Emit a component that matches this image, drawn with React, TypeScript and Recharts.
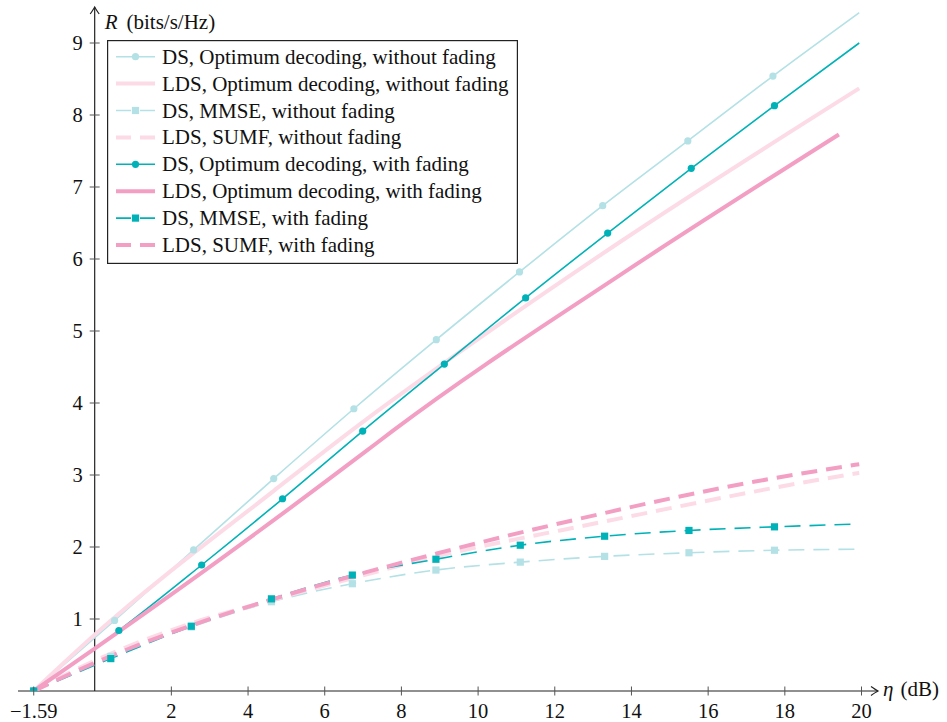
import React from 'react';
import { LineChart, Line, XAxis, YAxis, ReferenceLine, Legend } from 'recharts';

const FONT = "'Liberation Serif', 'Times New Roman', Times, serif";

// axis ticks
const X_TICKS = [-1.59, 2, 4, 6, 8, 10, 12, 14, 16, 18, 20];
const Y_TICKS = [1, 2, 3, 4, 5, 6, 7, 8, 9];

// DS, optimum decoding (marker positions + line end)
const dsOptNoFadeX = [-1.59, 0.52, 2.58, 4.67, 6.76, 8.91, 11.08, 13.25, 15.47, 17.69, 19.94];
const dsOptNoFadeR = [0, 0.98, 1.96, 2.95, 3.92, 4.88, 5.82, 6.74, 7.64, 8.54, 9.42];
const dsOptFadeX = [-1.59, 0.63, 2.79, 4.9, 6.99, 9.12, 11.24, 13.38, 15.56, 17.73, 19.94];
const dsOptFadeR = [0, 0.84, 1.75, 2.67, 3.61, 4.54, 5.46, 6.36, 7.26, 8.13, 9.0];

// DS, MMSE
const dsMmseX = [-1.59, 0.42, 2.52, 4.61, 6.72, 8.9, 11.1, 13.3, 15.5, 17.73, 19.93];
const dsMmseNoFadeR = [0, 0.48, 0.89, 1.24, 1.49, 1.68, 1.79, 1.87, 1.92, 1.955, 1.97];
const dsMmseFadeR = [0, 0.45, 0.9, 1.28, 1.61, 1.83, 2.025, 2.15, 2.23, 2.28, 2.32];

// LDS, optimum decoding
const ldsOptNoFadeX = [-1.59, 0, 4.67, 7.05, 9.1, 13.71, 19.94];
const ldsOptNoFadeR = [0, 0.78, 2.78, 3.76, 4.55, 6.24, 8.37];
const ldsOptFadeX = [-1.59, 0, 3.3, 7.05, 7.79, 13.71, 19.41];
const ldsOptFadeR = [0, 0.59, 1.84, 3.32, 3.62, 5.78, 7.73];

// LDS, SUMF
const ldsSumfNoFadeX = [-1.59, 0, 2.52, 4.61, 6.74, 8.92, 11.1, 12.14, 18.84, 19.94];
const ldsSumfNoFadeR = [0, 0.42, 0.94, 1.26, 1.57, 1.87, 2.12, 2.23, 2.93, 3.03];
const ldsSumfFadeX = [-1.59, 0, 2.52, 4.61, 6.74, 8.92, 12.14, 17.19, 19.94];
const ldsSumfFadeR = [0, 0.39, 0.91, 1.27, 1.6, 1.91, 2.33, 2.905, 3.15];

const LIGHT_CYAN = '#b3e1e5';
const TEAL = '#00b2b7';
const LIGHT_PINK = '#fcdbe7';
const PINK = '#f39fc4';
const AXIS = '#222';
const TICK = '#555';
const DASH = '16 9';

type Marker = 'circle' | 'square' | null;

interface Series {
  name: string;
  xs: number[];
  rs: number[];
  color: string;
  width: number;
  dashed: boolean;
  marker: Marker;
}

const SERIES: Series[] = [
  { name: 'DS, Optimum decoding, without fading', xs: dsOptNoFadeX, rs: dsOptNoFadeR, color: LIGHT_CYAN, width: 1.6, dashed: false, marker: 'circle' },
  { name: 'LDS, Optimum decoding, without fading', xs: ldsOptNoFadeX, rs: ldsOptNoFadeR, color: LIGHT_PINK, width: 4, dashed: false, marker: null },
  { name: 'DS, MMSE, without fading', xs: dsMmseX, rs: dsMmseNoFadeR, color: LIGHT_CYAN, width: 1.6, dashed: true, marker: 'square' },
  { name: 'LDS, SUMF, without fading', xs: ldsSumfNoFadeX, rs: ldsSumfNoFadeR, color: LIGHT_PINK, width: 4, dashed: true, marker: null },
  { name: 'DS, Optimum decoding, with fading', xs: dsOptFadeX, rs: dsOptFadeR, color: TEAL, width: 1.6, dashed: false, marker: 'circle' },
  { name: 'LDS, Optimum decoding, with fading', xs: ldsOptFadeX, rs: ldsOptFadeR, color: PINK, width: 4, dashed: false, marker: null },
  { name: 'DS, MMSE, with fading', xs: dsMmseX, rs: dsMmseFadeR, color: TEAL, width: 1.6, dashed: true, marker: 'square' },
  { name: 'LDS, SUMF, with fading', xs: ldsSumfFadeX, rs: ldsSumfFadeR, color: PINK, width: 4, dashed: true, marker: null },
];

// last point of each curve is the line end, no mark there
const toPoints = (s: Series) =>
  s.xs.map((x, i) => ({ x, y: s.rs[i], mark: s.marker !== null && i < s.xs.length - 1 }));

const drawMarker = (marker: Marker, color: string, cx: number, cy: number, key?: string) => {
  if (marker === 'circle') return <circle key={key} cx={cx} cy={cy} r={3.6} fill={color} />;
  if (marker === 'square') return <rect key={key} x={cx - 3.6} y={cy - 3.6} width={7.2} height={7.2} fill={color} />;
  return null;
};

const dotFor = (s: Series) => (props: any) => {
  const { cx, cy, index, payload } = props;
  if (!payload || !payload.mark || cx == null || cy == null) return <g key={`e-${index}`} />;
  return drawMarker(s.marker, s.color, cx, cy, `m-${index}`) as any;
};

const XTick = (props: any) => {
  const { x, y, payload } = props;
  const v = payload.value as number;
  const label = v < 0 ? '\u2212' + Math.abs(v).toFixed(2) : String(v);
  return (
    <g>
      <line x1={x} x2={x} y1={y - 4.5} y2={y + 4.5} stroke={TICK} strokeWidth={1} />
      <text x={x} y={y + 27} textAnchor="middle" fontSize={20.5} fontFamily={FONT} fill="#111">
        {label}
      </text>
    </g>
  );
};

const XAxisArrow = (props: any) => {
  const { x1, x2, y1 } = props;
  const left = Math.min(x1, x2);
  const right = Math.max(x1, x2);
  return (
    <g>
      <line x1={left} x2={right} y1={y1} y2={y1} stroke={AXIS} strokeWidth={1.2} />
      <path
        d={`M${right - 7},${y1 - 4.5} Q${right - 2},${y1 - 1} ${right},${y1} Q${right - 2},${y1 + 1} ${right - 7},${y1 + 4.5}`}
        fill="none"
        stroke={AXIS}
        strokeWidth={1.2}
      />
      <text x={right + 5} y={y1 + 5} fontSize={21} fontFamily={FONT} fill="#111">
        <tspan fontStyle="italic">η</tspan>
        <tspan dx={7}>(dB)</tspan>
      </text>
    </g>
  );
};

const YAxisArrow = (props: any) => {
  const { x1, y1, y2 } = props;
  const top = Math.min(y1, y2);
  const bottom = Math.max(y1, y2);
  return (
    <g>
      <line x1={x1} x2={x1} y1={bottom} y2={top} stroke={AXIS} strokeWidth={1.2} />
      <path
        d={`M${x1 - 4.5},${top + 7} Q${x1 - 1},${top + 2} ${x1},${top} Q${x1 + 1},${top + 2} ${x1 + 4.5},${top + 7}`}
        fill="none"
        stroke={AXIS}
        strokeWidth={1.2}
      />
      <text x={x1 + 10} y={top + 22} fontSize={21} fontFamily={FONT} fill="#111">
        <tspan fontStyle="italic">R</tspan>
        <tspan dx={9}>(bits/s/Hz)</tspan>
      </text>
    </g>
  );
};

function LegendBox() {
  return (
    <svg width={411} height={224} style={{ display: 'block' }}>
      <rect x={0.6} y={0.6} width={409.8} height={222.8} fill="#fff" stroke={AXIS} strokeWidth={1.2} />
      {SERIES.map((s, i) => {
        const cy = 16.7 + i * 26.9;
        return (
          <g key={s.name}>
            <line
              x1={9}
              x2={48}
              y1={cy}
              y2={cy}
              stroke={s.color}
              strokeWidth={s.width}
              strokeDasharray={s.dashed ? '15 9' : undefined}
            />
            {drawMarker(s.marker, s.color, 28.5, cy)}
            <text x={55} y={cy + 7} fontSize={21} fontFamily={FONT} fill="#111">
              {s.name}
            </text>
          </g>
        );
      })}
    </svg>
  );
}

export default function App() {
  return (
    <div style={{ position: 'absolute', left: 0, top: 0, background: '#fff' }}>
      <LineChart width={947} height={722} margin={{ top: 7, right: 69, bottom: 1, left: 18 }}>
        <XAxis
          type="number"
          dataKey="x"
          domain={[-2, 20.43]}
          allowDataOverflow
          ticks={X_TICKS}
          interval={0}
          axisLine={false}
          tickLine={false}
          tickSize={0}
          tickMargin={0}
          height={30}
          tick={XTick}
        />
        <YAxis type="number" dataKey="y" domain={[0, 9.5]} allowDataOverflow hide />
        <ReferenceLine y={0} shape={XAxisArrow} />
        <ReferenceLine x={0} shape={YAxisArrow} />
        {Y_TICKS.map((t) => (
          <ReferenceLine
            key={`yt-${t}`}
            segment={[{ x: -0.13, y: t }, { x: 0.13, y: t }]}
            stroke={TICK}
            strokeWidth={1}
            label={{ value: String(t), position: 'left', offset: 7, fill: '#111', fontSize: 20.5, fontFamily: FONT }}
          />
        ))}
        {SERIES.map((s) => (
          <Line
            key={s.name}
            name={s.name}
            data={toPoints(s)}
            dataKey="y"
            type="monotone"
            stroke={s.color}
            strokeWidth={s.width}
            strokeDasharray={s.dashed ? DASH : undefined}
            dot={s.marker ? dotFor(s) : false}
            activeDot={false}
            isAnimationActive={false}
          />
        ))}
        <Legend
          layout="vertical"
          align="center"
          verticalAlign="middle"
          wrapperStyle={{ left: 107, top: 40, width: 411, height: 224 }}
          content={() => <LegendBox />}
        />
      </LineChart>
    </div>
  );
}
